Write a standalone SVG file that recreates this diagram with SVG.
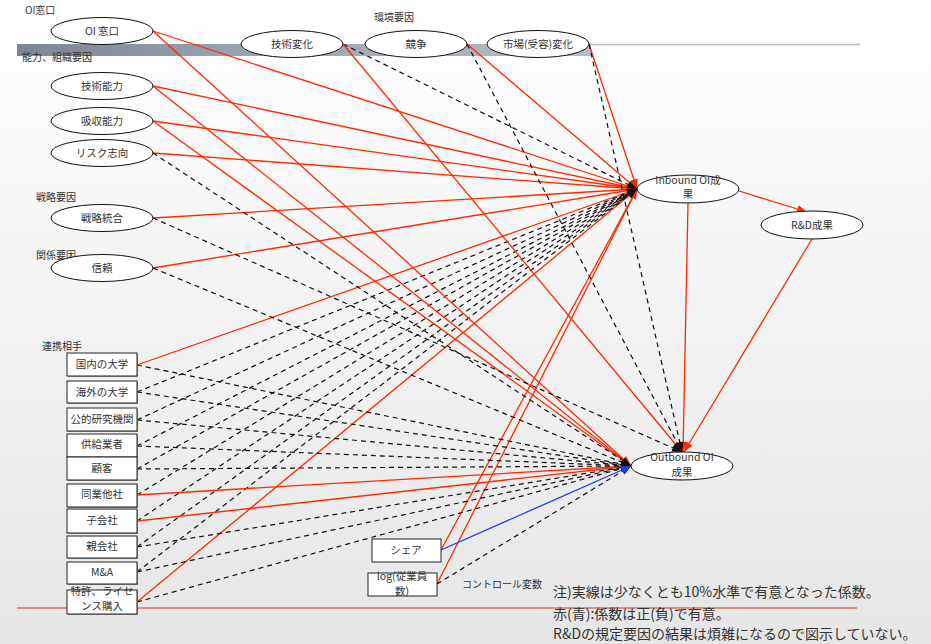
<svg xmlns="http://www.w3.org/2000/svg" width="931" height="644" viewBox="0 0 931 644">
<style>
text{font-family:"Noto Sans CJK JP","Noto Sans",sans-serif;fill:#333;}
.lbl{font-size:10px;}
.nt{font-size:10.5px;text-anchor:middle;}
.note{font-size:14px;}
.el{fill:#fff;stroke:#111;stroke-width:1;}
.bx{fill:#fff;stroke:#222;stroke-width:1;}
.sh{fill:#999;}
.r{stroke:#ff2a00;stroke-width:1.3;fill:none;marker-end:url(#ar);}
.d{stroke:#111;stroke-width:1.2;stroke-dasharray:5,4;fill:none;marker-end:url(#ak);}
.b{stroke:#1a3cff;stroke-width:1.3;fill:none;marker-end:url(#ab);}
</style>
<defs>
<linearGradient id="bg" x1="0" y1="0" x2="0" y2="1">
<stop offset="0" stop-color="#ffffff"/>
<stop offset="1" stop-color="#e6e6e6"/>
</linearGradient>
<linearGradient id="bar" x1="0" y1="0" x2="1" y2="0">
<stop offset="0" stop-color="#7d8594"/>
<stop offset="0.4" stop-color="#9aa3b0"/>
<stop offset="1" stop-color="#b4bcc7"/>
</linearGradient>
<marker id="ar" viewBox="0 0 10 8" refX="10" refY="4" markerWidth="10" markerHeight="8" markerUnits="userSpaceOnUse" orient="auto"><path d="M0,0 L10,4 L0,8 z" fill="#ff2a00"/></marker>
<marker id="ak" viewBox="0 0 10 8" refX="10" refY="4" markerWidth="10" markerHeight="8" markerUnits="userSpaceOnUse" orient="auto"><path d="M0,0 L10,4 L0,8 z" fill="#111"/></marker>
<marker id="ab" viewBox="0 0 10 8" refX="10" refY="4" markerWidth="10" markerHeight="8" markerUnits="userSpaceOnUse" orient="auto"><path d="M0,0 L10,4 L0,8 z" fill="#1a3cff"/></marker>
</defs>
<rect x="0" y="0" width="931" height="644" fill="url(#bg)"/>
<rect x="17" y="44" width="574" height="12" fill="url(#bar)"/>
<line x1="589" y1="44.5" x2="860" y2="44.5" stroke="#b8c2cc" stroke-width="1.5"/>
<line x1="17" y1="608" x2="857" y2="608" stroke="#e37565" stroke-width="1.5"/>

<g id="group-labels">
<text class="lbl" x="25" y="14">OI窓口</text>
<text class="lbl" x="22" y="61">能力、組織要因</text>
<text class="lbl" x="374" y="21">環境要因</text>
<text class="lbl" x="36" y="201">戦略要因</text>
<text class="lbl" x="36" y="259">関係要因</text>
<text class="lbl" x="42" y="350">連携相手</text>
<text class="lbl" x="462" y="588">コントロール変数</text>
</g>

<g id="connectors">
<path class="r" d="M153,31 L637,189"/>
<path class="r" d="M153,86 L637,189"/>
<path class="r" d="M153,121 L637,189"/>
<path class="r" d="M153,153 L637,189"/>
<path class="r" d="M153,218 L637,189"/>
<path class="r" d="M153,268 L637,189"/>
<path class="r" d="M467,44 L637,189"/>
<path class="r" d="M589,44 L637,189"/>
<path class="r" d="M137,365 L637,189"/>
<path class="r" d="M137,602 L637,189"/>
<path class="r" d="M441,550 L637,189"/>
<path class="r" d="M437,584 L637,189"/>
<path class="d" d="M343,44 L637,189"/>
<path class="d" d="M137,392 L637,189"/>
<path class="d" d="M137,420 L637,189"/>
<path class="d" d="M137,446 L637,189"/>
<path class="d" d="M137,469 L637,189"/>
<path class="d" d="M137,495 L637,189"/>
<path class="d" d="M137,521 L637,189"/>
<path class="d" d="M137,547 L637,189"/>
<path class="d" d="M137,572 L637,189"/>

<path class="r" d="M153,31 L631,466"/>
<path class="r" d="M153,86 L631,466"/>
<path class="r" d="M153,121 L631,466"/>
<path class="r" d="M137,495 L631,466"/>
<path class="r" d="M137,521 L631,466"/>
<path class="d" d="M153,153 L631,466"/>
<path class="d" d="M153,268 L631,466"/>
<path class="d" d="M137,365 L631,466"/>
<path class="d" d="M137,392 L631,466"/>
<path class="d" d="M137,420 L631,466"/>
<path class="d" d="M137,446 L631,466"/>
<path class="d" d="M137,469 L631,466"/>
<path class="d" d="M137,547 L631,466"/>
<path class="d" d="M137,572 L631,466"/>
<path class="d" d="M137,602 L631,466"/>
<path class="d" d="M437,584 L631,466"/>
<path class="b" d="M441,550 L631,466"/>

<path class="r" d="M343,44 L682,452"/>
<path class="r" d="M688,203 L683,452"/>
<path class="r" d="M812,239 L684,452"/>
<path class="d" d="M153,218 L682,452"/>
<path class="d" d="M467,44 L682,452"/>
<path class="d" d="M589,44 L682,452"/>

<path class="r" d="M739,191 L807,212"/>
</g>

<g id="n-oi"><ellipse class="el" cx="102" cy="31" rx="51" ry="13.5"/><text class="nt" x="102" y="35">OI 窓口</text></g>
<g id="n-gijutsuhenka"><ellipse class="el" cx="292" cy="44" rx="51" ry="13.5"/><text class="nt" x="292" y="48">技術変化</text></g>
<g id="n-kyoso"><ellipse class="el" cx="416" cy="44" rx="51" ry="13.5"/><text class="nt" x="416" y="48">競争</text></g>
<g id="n-shijo"><ellipse class="el" cx="538" cy="44" rx="51" ry="13.5"/><text class="nt" x="538" y="48">市場(受容)変化</text></g>
<g id="n-gijutsunoryoku"><ellipse class="el" cx="102" cy="86" rx="51" ry="13.5"/><text class="nt" x="102" y="90">技術能力</text></g>
<g id="n-kyushu"><ellipse class="el" cx="102" cy="121" rx="51" ry="13.5"/><text class="nt" x="102" y="125">吸収能力</text></g>
<g id="n-risk"><ellipse class="el" cx="102" cy="153" rx="51" ry="13.5"/><text class="nt" x="102" y="157">リスク志向</text></g>
<g id="n-senryaku"><ellipse class="el" cx="102" cy="218" rx="51" ry="13.5"/><text class="nt" x="102" y="222">戦略統合</text></g>
<g id="n-shinrai"><ellipse class="el" cx="102" cy="268" rx="51" ry="13.5"/><text class="nt" x="102" y="272">信頼</text></g>
<g id="n-inbound"><ellipse class="el" cx="688" cy="189" rx="51" ry="14"/><text class="nt" x="688" y="184">Inbound OI成</text><text class="nt" x="688" y="198">果</text></g>
<g id="n-rd"><ellipse class="el" cx="812" cy="225" rx="51" ry="14"/><text class="nt" x="812" y="229">R&amp;D成果</text></g>
<g id="n-outbound"><ellipse class="el" cx="682" cy="466" rx="51" ry="14"/><text class="nt" x="682" y="461">Outbound OI</text><text class="nt" x="682" y="476">成果</text></g>

<g id="n-kokunai"><rect class="sh" x="68" y="354" width="70" height="23"/><rect class="bx" x="67" y="353" width="70" height="23"/><text class="nt" x="102" y="368">国内の大学</text></g>
<g id="n-kaigai"><rect class="sh" x="68" y="382" width="70" height="22"/><rect class="bx" x="67" y="381" width="70" height="22"/><text class="nt" x="102" y="396">海外の大学</text></g>
<g id="n-koteki"><rect class="sh" x="68" y="409" width="70" height="23"/><rect class="bx" x="67" y="408" width="70" height="23"/><text class="nt" x="102" y="423">公的研究機関</text></g>
<g id="n-kyokyu"><rect class="sh" x="68" y="435" width="70" height="23"/><rect class="bx" x="67" y="434" width="70" height="23"/><text class="nt" x="102" y="448">供給業者</text></g>
<g id="n-kokyaku"><rect class="sh" x="68" y="458" width="70" height="23"/><rect class="bx" x="67" y="457" width="70" height="23"/><text class="nt" x="102" y="472">顧客</text></g>
<g id="n-dogyo"><rect class="sh" x="68" y="485" width="70" height="23"/><rect class="bx" x="67" y="484" width="70" height="23"/><text class="nt" x="102" y="498">同業他社</text></g>
<g id="n-kogaisha"><rect class="sh" x="68" y="510" width="70" height="24"/><rect class="bx" x="67" y="509" width="70" height="24"/><text class="nt" x="102" y="524">子会社</text></g>
<g id="n-oyagaisha"><rect class="sh" x="68" y="537" width="70" height="22"/><rect class="bx" x="67" y="536" width="70" height="22"/><text class="nt" x="102" y="550">親会社</text></g>
<g id="n-ma"><rect class="sh" x="68" y="563" width="70" height="22"/><rect class="bx" x="67" y="562" width="70" height="22"/><text class="nt" x="102" y="576">M&amp;A</text></g>
<g id="n-tokkyo"><rect class="sh" x="68" y="591" width="70" height="24"/><rect class="bx" x="67" y="590" width="70" height="24"/><text class="nt" x="102" y="595">特許、ライセ</text><text class="nt" x="102" y="610">ンス購入</text></g>

<g id="n-share"><rect class="bx" x="372" y="539" width="69" height="23"/><text class="nt" x="406" y="554">シェア</text></g>
<g id="n-log"><rect class="bx" x="368" y="573" width="69" height="23"/><text class="nt" x="402" y="580">log(従業員</text><text class="nt" x="402" y="595">数)</text></g>

<g id="notes">
<text class="note" x="553" y="597">注)実線は少なくとも10%水準で有意となった係数。</text>
<text class="note" x="553" y="619">赤(青):係数は正(負)で有意。</text>
<text class="note" x="553" y="639">R&amp;Dの規定要因の結果は煩雑になるので図示していない。</text>
</g>
</svg>
